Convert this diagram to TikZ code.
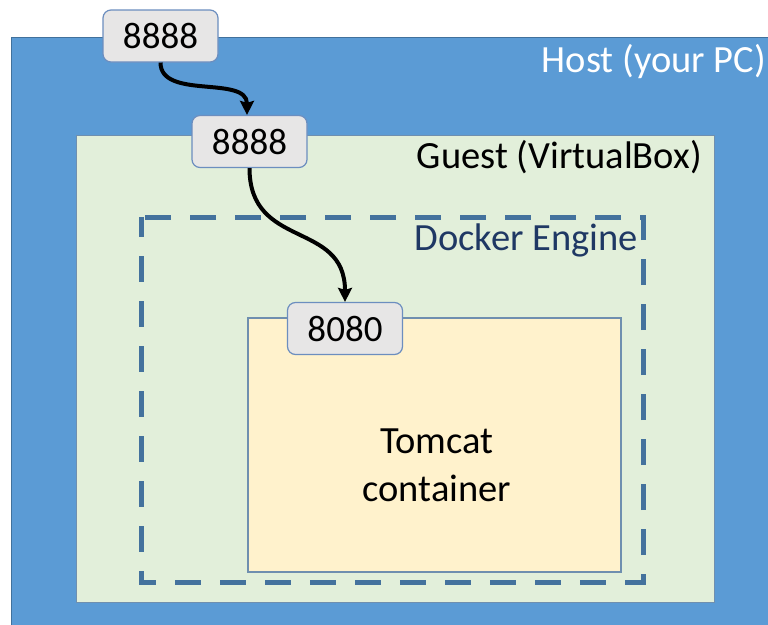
\documentclass[tikz,border=0pt]{standalone}
\usepackage{fontspec}
\setmainfont{Carlito}
\usetikzlibrary{arrows.meta}
\definecolor{hostblue}{HTML}{5B9BD5}
\definecolor{hostedge}{HTML}{41719C}
\definecolor{guestfill}{HTML}{E2EFDA}
\definecolor{guestedge}{HTML}{6F8FAF}
\definecolor{dockedge}{HTML}{44729D}
\definecolor{docktext}{HTML}{1F3864}
\definecolor{tomfill}{HTML}{FFF2CC}
\definecolor{portfill}{HTML}{E7E6E6}
\definecolor{portedge}{HTML}{6C8EBF}
\tikzset{
  portbox/.style={draw=portedge, fill=portfill, line width=1.2pt, rounded corners=8pt,
    minimum width=115pt, minimum height=52pt, inner sep=0pt,
    font=\fontsize{37}{42}\selectfont},
  conn/.style={line width=4pt, -{Stealth[length=14pt,width=14pt,inset=2pt]}},
  lbl/.style={font=\fontsize{38.5}{44}\selectfont, inner sep=0pt}
}
\begin{document}
\begin{tikzpicture}[x=1pt,y=-1pt]
\useasboundingbox (0,0) rectangle (768,624);
\clip (0,0) rectangle (768,624);
\fill[white] (0,0) rectangle (768,624);
% host
\draw[fill=hostblue, draw=hostedge, line width=1pt] (11,37) rectangle (790,650);
\node[lbl, text=white, anchor=east] (host) at (766,62) {Host (your PC)};
% guest
\draw[fill=guestfill, draw=guestedge, line width=1pt] (76,135) rectangle (714,602);
\node[lbl, anchor=east] (guest) at (702,157) {Guest (VirtualBox)};
% docker
\draw[draw=dockedge, line width=5pt, dash pattern=on 26pt off 19pt, dash phase=6pt] (141,217) rectangle (643,582);
\node[lbl, text=docktext, anchor=east] (docker) at (638,240) {Docker Engine};
% tomcat
\draw[fill=tomfill, draw=guestedge, line width=1.2pt] (248,318) rectangle (621,572);
\node[lbl, align=center, font=\fontsize{38.5}{48}\selectfont] (tomcat) at (437,465) {Tomcat\\container};
% ports
\node[portbox] (p1) at (160.5,36) {8888};
\node[portbox] (p2) at (249.5,141.5) {8888};
\node[portbox] (p3) at (345,328.5) {8080};
\draw[conn] (p1.south) .. controls (160.5,100) and (247,75) .. ([xshift=-2.5pt]p2.north);
\draw[conn] (p2.south) .. controls (249.5,250) and (345,220) .. (p3.north);
\end{tikzpicture}
\end{document}
